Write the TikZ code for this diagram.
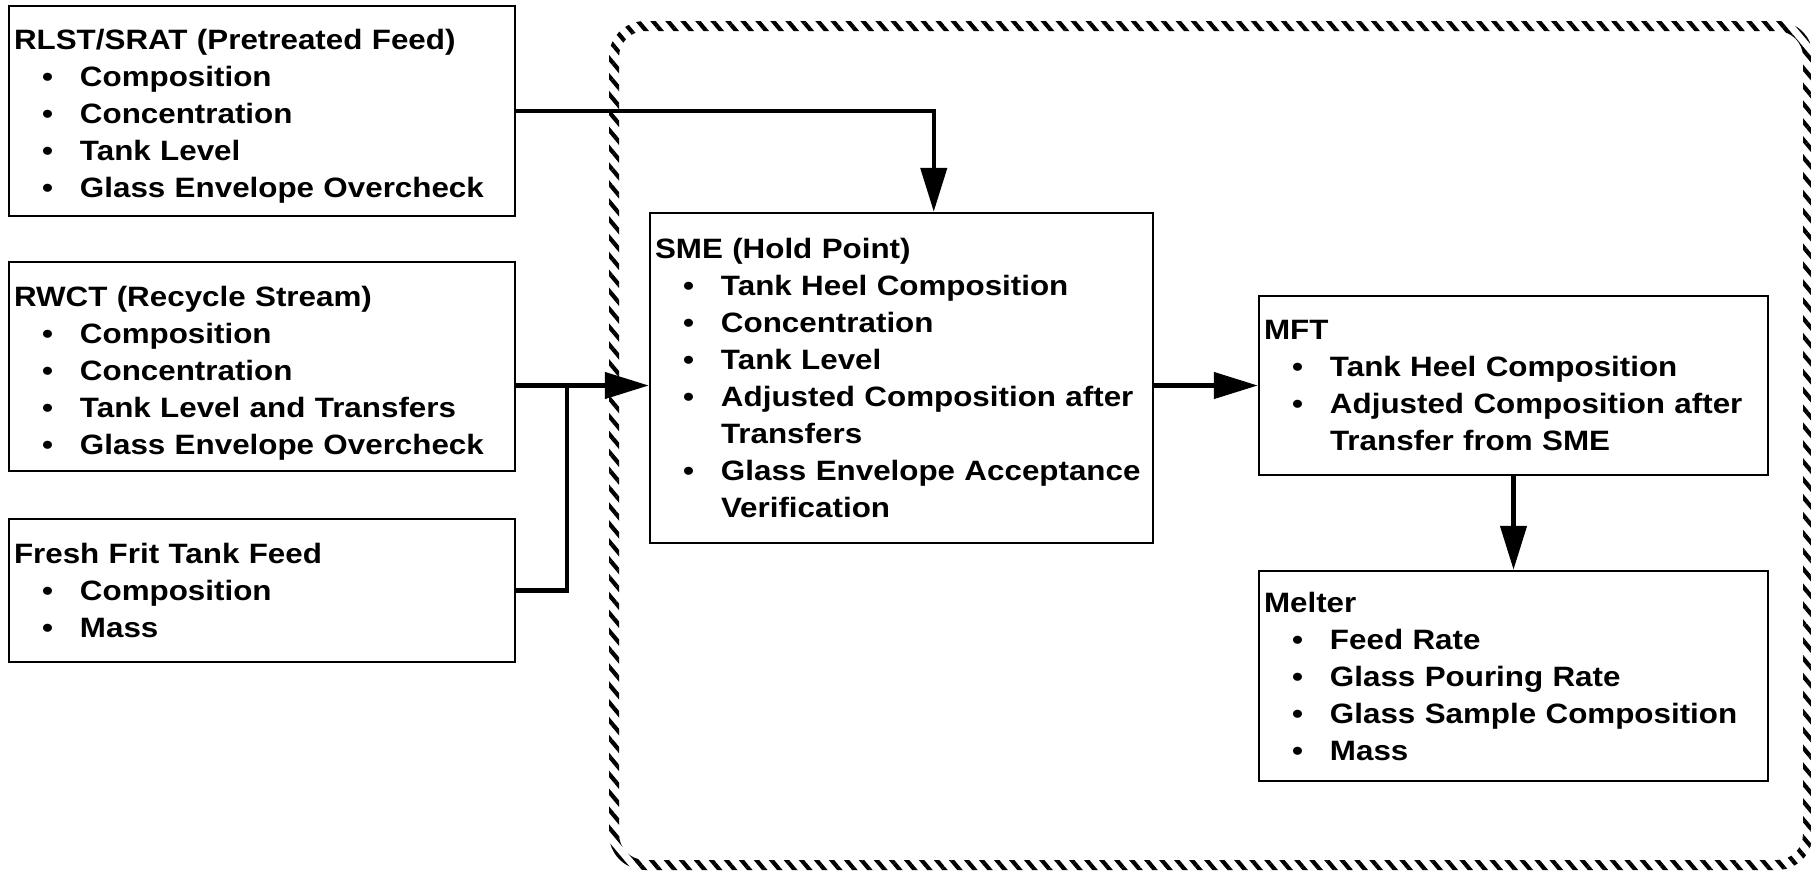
\documentclass[tikz,border=0pt]{standalone}
\usepackage{fontspec}
\setmainfont{Liberation Sans}[FakeStretch=1.12]
\usetikzlibrary{arrows.meta,patterns.meta}
\newcommand{\itm}[1]{\\\hspace*{28pt}\makebox[38pt][l]{\textbullet}#1}
\newcommand{\cnt}[1]{\\\hspace*{66pt}#1}
\newcommand{\ttl}[2]{\rule{0pt}{#1pt}#2}
\tikzset{
  box/.style={draw, line width=2.5pt, inner xsep=5pt, inner ysep=0pt, align=left,
    font=\bfseries\fontsize{28}{37}\selectfont},
  conn/.style={line width=4.5pt},
  arr/.style={line width=4.5pt, -{Triangle[length=44pt,width=26pt]}},
}
\begin{document}
\begin{tikzpicture}[x=1pt,y=-1pt]
\useasboundingbox (0,0) rectangle (1811,871);
\fill[white] (0,0) rectangle (1811,871);
% hatched boundary
\fill[pattern={Lines[angle=-50,distance=11.5pt,line width=4.2pt]}, even odd rule]
  [rounded corners=36pt] (609,21) rectangle (1813,870)
  [rounded corners=26pt] (619,31) rectangle (1803,860);
% boxes
\node[box, minimum width=506pt, minimum height=210pt, text width=496pt] (B1) at (262,111)
  {\ttl{31}{RLST/SRAT (Pretreated Feed)}\itm{Composition}\itm{Concentration}\itm{Tank Level}\itm{Glass Envelope Overcheck}};
\node[box, minimum width=506pt, minimum height=209pt, text width=496pt] (B2) at (262,366.5)
  {\ttl{33}{RWCT (Recycle Stream)}\itm{Composition}\itm{Concentration}\itm{Tank Level and Transfers}\itm{Glass Envelope Overcheck}};
\node[box, minimum width=506pt, minimum height=143pt, text width=496pt] (B3) at (262,590.5)
  {Fresh Frit Tank Feed\itm{Composition}\itm{Mass}};
\node[box, minimum width=503pt, minimum height=330pt, text width=493pt] (SME) at (901.5,378)
  {SME (Hold Point)\itm{Tank Heel Composition}\itm{Concentration}\itm{Tank Level}\itm{Adjusted Composition after}\cnt{Transfers}\itm{Glass Envelope Acceptance}\cnt{Verification}};
\node[box, minimum width=509pt, minimum height=179pt, text width=499pt] (MFT) at (1513.5,385.5)
  {MFT\itm{Tank Heel Composition}\itm{Adjusted Composition after}\cnt{Transfer from SME}};
\node[box, minimum width=509pt, minimum height=210pt, text width=499pt] (MEL) at (1513.5,676)
  {Melter\itm{Feed Rate}\itm{Glass Pouring Rate}\itm{Glass Sample Composition}\itm{Mass}};
% connectors
\coordinate (join) at (567,385);
\draw[arr] (B1.east) -| ([xshift=285pt]SME.north west);
\draw[arr] (B2.east |- MFT.west) -- (SME.west |- MFT.west);
\draw[conn] (B3.east) -| (join);
\draw[arr] (SME.east |- MFT.west) -- (MFT.west);
\draw[arr] (MFT.south) -- (MEL.north);
\end{tikzpicture}
\end{document}
